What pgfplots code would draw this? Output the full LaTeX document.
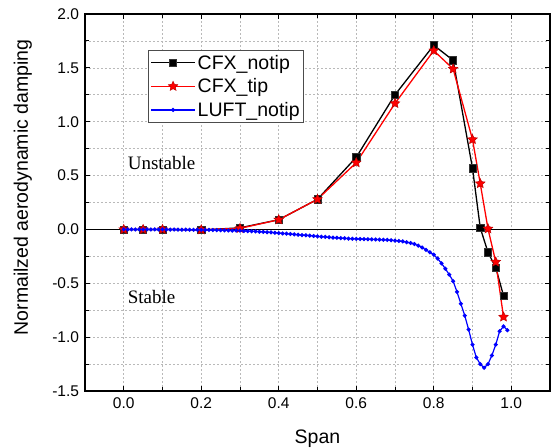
\documentclass[border=0pt]{standalone}
\usepackage{fontspec}
\setmainfont{Liberation Sans}
\newfontfamily\serifrm{Liberation Serif}
\usepackage{pgfplots}
\pgfplotsset{compat=1.18}

\pgfdeclareplotmark{fstar}{%
  \pgfpathmoveto{\pgfpointpolar{90}{\pgfplotmarksize}}%
  \pgfpathlineto{\pgfpointpolar{126}{0.48\pgfplotmarksize}}%
  \pgfpathlineto{\pgfpointpolar{162}{\pgfplotmarksize}}%
  \pgfpathlineto{\pgfpointpolar{198}{0.48\pgfplotmarksize}}%
  \pgfpathlineto{\pgfpointpolar{234}{\pgfplotmarksize}}%
  \pgfpathlineto{\pgfpointpolar{270}{0.48\pgfplotmarksize}}%
  \pgfpathlineto{\pgfpointpolar{306}{\pgfplotmarksize}}%
  \pgfpathlineto{\pgfpointpolar{342}{0.48\pgfplotmarksize}}%
  \pgfpathlineto{\pgfpointpolar{18}{\pgfplotmarksize}}%
  \pgfpathlineto{\pgfpointpolar{54}{0.48\pgfplotmarksize}}%
  \pgfpathclose
  \pgfusepathqfillstroke
}

\begin{document}
\begin{tikzpicture}
\useasboundingbox (-85bp,-57bp) rectangle (467bp,391bp);
\begin{axis}[
  scale only axis,
  width=465bp, height=377bp,
  xmin=-0.1, xmax=1.1,
  ymin=-1.5, ymax=2.0,
  xtick={0,0.2,0.4,0.6,0.8,1.0},
  minor xtick={0.1,0.3,0.5,0.7,0.9},
  ytick={-1.5,-1.0,-0.5,0,0.5,1.0,1.5,2.0},
  minor ytick={-1.25,-0.75,-0.25,0.25,0.75,1.25,1.75},
  tick align=inside,
  major tick length=5bp, minor tick length=4bp,
  every tick/.style={black, line width=0.9bp},
  axis line style={line width=1.3bp},
  grid=both,
  major grid style={gray!55, dash pattern=on 2bp off 2bp, line width=0.6bp},
  minor grid style={gray!55, dash pattern=on 2bp off 2bp, line width=0.6bp},
  /pgf/number format/assume math mode=true,
  /pgf/number format/fixed,
  /pgf/number format/fixed zerofill,
  /pgf/number format/precision=1,
  ticklabel style={font=\fontsize{15.5bp}{18bp}\selectfont},
  xticklabel style={yshift=-3bp},
  yticklabel style={xshift=-2.5bp},
  xlabel={Span},
  ylabel={Normailzed aerodynamic damping},
  label style={font=\fontsize{19.5bp}{23bp}\selectfont},
  xlabel style={at={(axis description cs:0.5,-0.138)}, anchor=base},
  ylabel style={at={(axis description cs:-0.1226,0.54)}, rotate=0, anchor=base},
  legend style={at={(0.136,0.904)}, anchor=north west,
    draw=black!70, fill=white,
    font=\fontsize{19.5bp}{23bp}\selectfont, row sep=4bp,
    inner xsep=2bp, inner ysep=2.5bp},
  legend cell align=left,
  legend image code/.code={%
    \draw[#1, line width=1.3bp, mark repeat=2, mark phase=2] plot coordinates {(0bp,0bp) (22bp,0bp) (44bp,0bp)};},
]
\addplot[black, line width=1.2bp, forget plot] coordinates {(-0.1,0) (1.1,0)};

\addplot[black, line width=1.3bp, mark=square*, mark size=3.6bp,
  mark options={fill=black, draw=black!80, line width=0.6bp}] coordinates {
(0.00,0.000) (0.05,0.000) (0.10,0.000) (0.20,-0.005) (0.30,0.015)
(0.40,0.090) (0.50,0.280) (0.60,0.670) (0.70,1.250) (0.80,1.710)
(0.85,1.570) (0.90,0.568) (0.92,0.015) (0.94,-0.213) (0.96,-0.355)
(0.98,-0.614)};
\addlegendentry{CFX\_notip}

\addplot[red, line width=1.3bp, mark=fstar, mark size=5bp,
  mark options={fill=red, draw=red!75!black, line width=0.5bp}] coordinates {
(0.00,0.000) (0.05,0.000) (0.10,0.000) (0.20,-0.003) (0.30,0.010)
(0.40,0.090) (0.50,0.280) (0.60,0.620) (0.70,1.170) (0.80,1.660)
(0.85,1.490) (0.90,0.835) (0.92,0.426) (0.94,0.006) (0.96,-0.302)
(0.98,-0.812)};
\addlegendentry{CFX\_tip}

\addplot[blue, line width=1.2bp, mark=*, mark size=1.4bp,
  mark options={fill=blue, draw=blue}] coordinates {
(0.00,0.000) (0.01,0.000) (0.02,0.000) (0.03,0.000) (0.04,0.000)
(0.05,0.000) (0.06,0.000) (0.07,0.000) (0.08,0.000) (0.09,0.000)
(0.10,0.000) (0.11,-0.001) (0.12,-0.001) (0.13,-0.001) (0.14,-0.002)
(0.15,-0.002) (0.16,-0.002) (0.17,-0.003) (0.18,-0.003) (0.19,-0.004)
(0.20,-0.004) (0.21,-0.005) (0.22,-0.005) (0.23,-0.006) (0.24,-0.006)
(0.25,-0.007) (0.26,-0.008) (0.27,-0.009) (0.28,-0.010) (0.29,-0.011)
(0.30,-0.012) (0.31,-0.014) (0.32,-0.015) (0.33,-0.017) (0.34,-0.019)
(0.35,-0.021) (0.36,-0.023) (0.37,-0.026) (0.38,-0.028) (0.39,-0.031)
(0.40,-0.034) (0.41,-0.037) (0.42,-0.040) (0.43,-0.043) (0.44,-0.046)
(0.45,-0.049) (0.46,-0.052) (0.47,-0.055) (0.48,-0.058) (0.49,-0.061)
(0.50,-0.064) (0.51,-0.067) (0.52,-0.070) (0.53,-0.073) (0.54,-0.076)
(0.55,-0.078) (0.56,-0.081) (0.57,-0.083) (0.58,-0.085) (0.59,-0.087)
(0.60,-0.088) (0.61,-0.089) (0.62,-0.090) (0.63,-0.091) (0.64,-0.092)
(0.65,-0.093) (0.66,-0.094) (0.67,-0.096) (0.68,-0.098) (0.69,-0.100)
(0.70,-0.103) (0.71,-0.107) (0.72,-0.112) (0.73,-0.118) (0.74,-0.126)
(0.75,-0.136) (0.76,-0.150) (0.77,-0.168) (0.78,-0.190) (0.79,-0.212)
(0.80,-0.235) (0.81,-0.270) (0.82,-0.315) (0.83,-0.365) (0.84,-0.420)
(0.85,-0.480) (0.86,-0.580) (0.87,-0.690) (0.88,-0.800) (0.89,-0.930)
(0.90,-1.070) (0.91,-1.190) (0.92,-1.250) (0.93,-1.285) (0.94,-1.250)
(0.95,-1.170) (0.96,-1.070) (0.97,-0.945) (0.98,-0.900) (0.99,-0.935)};
\addlegendentry{LUFT\_notip}

\node[anchor=base west, font=\serifrm\fontsize{19bp}{22bp}\selectfont, inner sep=0pt] at (axis cs:0.01,0.556) {Unstable};
\node[anchor=base west, font=\serifrm\fontsize{19bp}{22bp}\selectfont, inner sep=0pt] at (axis cs:0.01,-0.685) {Stable};
\end{axis}
\end{tikzpicture}
\end{document}
